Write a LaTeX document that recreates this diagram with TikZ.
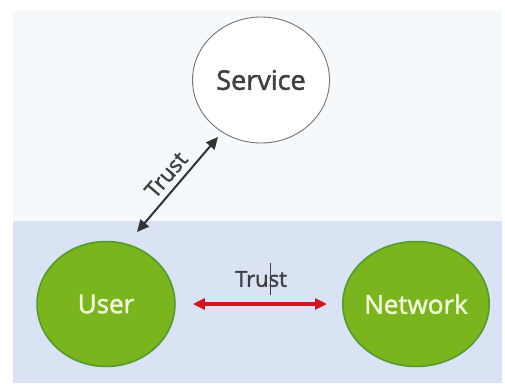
\documentclass[tikz,border=0pt]{standalone}
\usepackage{fontspec}
\setmainfont{Open Sans}
\newfontfamily\semibold[FakeBold=1.8]{Open Sans}
\usetikzlibrary{arrows.meta,shapes.geometric}
\definecolor{topbg}{HTML}{F6F9FC}
\definecolor{botbg}{HTML}{DAE3F3}
\definecolor{greenfill}{HTML}{7AB51D}
\definecolor{greenline}{HTML}{4F9A2A}
\definecolor{greentext}{HTML}{F2F8DA}
\definecolor{redarrow}{HTML}{D4161E}
\definecolor{darktext}{HTML}{404040}
\tikzset{
  greencirc/.style={ellipse, minimum width=138pt, minimum height=125pt, fill=greenfill, draw=greenline, line width=1.5pt, text=greentext, font=\semibold\fontsize{26}{30}\selectfont, inner sep=0pt},
  whitecirc/.style={ellipse, minimum width=137pt, minimum height=126pt, fill=white, draw=gray!90!black, line width=0.9pt, text=darktext, font=\semibold\fontsize{27}{31}\selectfont, inner sep=0pt},
  trustlbl/.style={text=darktext, font=\semibold\fontsize{22}{26}\selectfont, inner sep=0pt},
  bigtip/.tip={Triangle[length=12pt,width=11pt]},
  twoway/.style={{bigtip}-{bigtip}},
}
\begin{document}
\begin{tikzpicture}[x=1pt,y=-1pt]
\useasboundingbox (0,0) rectangle (505,383);
\fill[white] (0,0) rectangle (505,383);
\fill[topbg] (13,11) rectangle (502,221);
\fill[botbg] (13,221) rectangle (502,383);
\node[whitecirc] (service) at (261,80) {Service};
\node[greencirc] (user) at (106,304) {User};
\node[greencirc] (network) at (416,304) {Network};
\coordinate (a1) at (137,232);
\coordinate (a2) at (218,137);
\draw[twoway, line width=2pt, draw=black!80] (a1) -- node[trustlbl, sloped, above=6pt] (t1) {Trust} (a2);
\draw[twoway, line width=3.4pt, draw=redarrow] ([xshift=17pt]user.east) coordinate (r1) -- ([xshift=-15pt]network.west) coordinate (r2);
\node[trustlbl] (t2) at (261,279) {Trust};
\draw[darktext, line width=0.9pt] (270,263) -- (270,295);
\end{tikzpicture}
\end{document}
